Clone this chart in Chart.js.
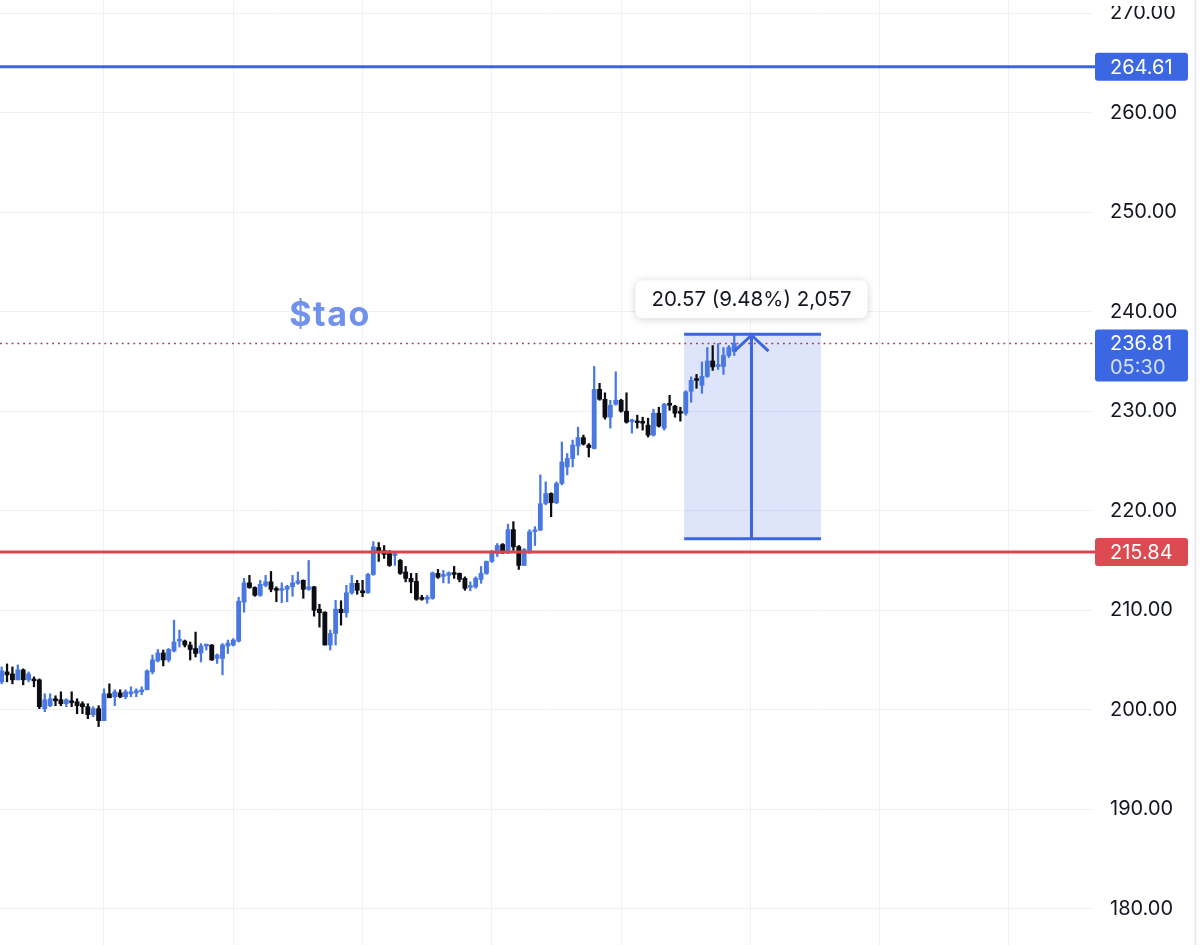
<!DOCTYPE html>
<html><head><meta charset="utf-8">
<script src="https://cdn.jsdelivr.net/npm/chart.js@4.4.1/dist/chart.umd.min.js"></script>
<style>html,body{margin:0;padding:0;background:#fff;overflow:hidden}#wrap{width:1200px;height:945px;position:relative}</style>
</head><body><div id="wrap"><canvas id="c"></canvas></div>
<script>
// ---- data (candle index = category) ----
const OPEN = [202.8,203.8,203.6,203.0,204.0,203.0,203.0,203.0,200.1,200.4,
201.1,201.0,200.6,200.9,200.8,200.6,200.3,199.5,200.1,198.9,
201.6,201.3,201.7,201.3,201.6,201.7,201.8,202.0,203.8,204.9,
205.7,205.0,205.9,206.9,206.9,206.5,206.15,205.7,206.4,206.5,
205.15,205.15,206.4,206.5,206.9,210.8,212.75,212.28,211.5,212.5,
212.85,212.1,212.0,212.1,212.35,212.7,213.0,212.1,212.35,210.1,
209.8,206.5,207.66,210.1,209.75,211.75,212.7,211.95,211.75,213.6,
216.3,216.0,215.7,215.5,215.0,213.85,213.2,212.9,211.2,211.1,
211.2,213.7,213.4,213.5,213.75,213.7,213.2,212.3,212.35,213.1,
213.7,214.9,215.7,216.6,215.75,218.1,216.4,214.5,216.0,217.9,
218.05,220.73,221.73,220.8,222.74,224.4,225.25,226.5,227.35,226.6,
226.25,232.2,231.2,229.4,230.7,231.1,230.0,228.95,229.0,228.9,
228.6,227.6,229.8,228.3,230.8,230.5,229.9,229.8,232.0,233.2,
232.6,233.5,235.05,234.5,234.5,235.6,236.0];
const HIGH = [204.3,204.6,204.3,204.5,204.1,203.8,203.3,203.1,201.6,201.6,
201.4,201.8,201.1,201.8,201.1,200.8,200.6,200.3,200.4,202.1,
202.6,202.0,202.0,202.0,202.3,202.1,202.3,204.0,205.5,206.05,
206.0,206.15,209.0,208.0,207.0,206.8,207.8,206.65,206.6,206.55,
205.6,206.65,207.0,207.15,211.3,213.2,213.5,212.35,213.0,213.5,
213.9,212.35,212.75,212.5,213.5,213.85,213.05,215.0,212.4,210.6,
209.85,208.0,211.0,210.95,212.5,213.5,213.0,213.0,213.7,216.9,
216.8,216.5,216.0,215.7,215.1,214.4,213.7,213.7,211.5,211.5,
213.85,214.1,214.0,213.85,214.4,213.75,213.35,212.85,213.35,214.4,
214.95,216.0,216.7,216.7,218.65,218.9,216.5,216.2,218.1,218.4,
223.6,222.9,221.8,222.9,226.9,225.75,227.1,228.4,227.6,226.75,
234.5,232.8,231.85,231.1,233.96,231.2,231.85,229.2,229.6,229.4,
229.3,230.2,230.4,230.8,231.6,230.6,230.4,232.05,233.45,233.7,
234.96,236.4,236.6,236.8,236.4,236.6,237.6];
const LOW = [202.6,202.8,202.6,203.0,202.5,202.8,202.3,200.1,199.8,200.3,
200.4,200.4,200.3,200.3,199.6,199.6,199.1,199.3,198.3,198.9,
201.2,200.4,201.2,201.1,201.3,201.3,201.5,202.0,203.6,204.8,
204.4,204.8,205.8,206.3,206.3,205.0,205.3,204.8,206.0,204.95,
204.65,203.5,205.65,206.4,206.8,209.8,212.2,211.4,211.4,212.35,
211.85,210.85,210.75,210.85,211.4,212.6,211.2,212.0,209.4,208.3,
206.5,206.0,206.5,208.5,209.3,211.6,211.6,211.35,211.7,213.5,
214.9,215.2,214.4,214.5,213.6,212.85,211.75,211.0,211.0,210.7,
211.1,213.2,212.75,212.7,213.2,212.85,212.0,211.95,212.2,212.7,
213.6,214.8,215.4,215.7,215.7,216.0,214.1,214.5,215.7,216.5,
218.0,220.6,219.4,220.7,222.6,223.6,224.4,225.6,226.6,225.4,
226.2,231.1,229.2,228.3,230.6,229.9,228.8,227.8,228.3,228.1,
227.4,227.5,228.4,228.1,230.1,229.4,229.0,229.6,230.9,232.3,
231.8,233.4,234.1,234.2,233.7,235.4,235.6];
const CLOSE = [203.9,203.5,203.0,204.0,203.0,203.6,202.9,200.3,201.0,201.1,
200.9,200.6,201.0,200.7,200.4,200.3,199.5,200.1,198.9,201.6,
201.2,201.8,201.3,201.8,201.8,201.9,202.0,203.9,205.0,205.7,
205.0,206.05,206.8,207.0,206.5,206.05,205.65,206.4,206.5,205.0,
205.5,206.5,206.7,207.0,210.9,212.75,212.28,211.5,212.6,212.85,
212.1,212.0,212.15,212.4,212.75,212.95,212.1,212.35,210.0,209.75,
206.5,207.66,210.1,209.75,211.75,212.7,212.0,211.75,213.6,216.37,
215.9,215.6,214.5,215.6,213.7,213.2,212.85,211.1,211.1,211.3,
213.75,213.3,213.5,213.75,213.6,213.1,212.2,212.4,213.2,213.7,
214.9,215.9,216.5,215.75,218.1,216.37,214.5,216.1,217.9,218.05,
220.7,221.73,220.8,222.74,224.9,225.25,226.6,227.35,226.7,226.35,
232.2,231.2,229.4,230.6,231.1,230.0,228.9,229.1,228.85,228.8,
227.6,229.8,228.5,230.7,230.6,229.8,229.8,231.95,233.1,233.1,
233.5,235.05,234.45,234.7,235.6,236.4,236.81];
const Y_TICKS = [180,190,200,210,220,230,240,250,260,270];
const TIME_GRID = [19,43,67,91,115,139,163,187];
const RESISTANCE = 264.61;
const SUPPORT = 215.84;
const LAST_PRICE = 236.81;
const COUNTDOWN = '05:30';
const TITLE = '$tao';
const MEASURE_FROM = 126.7, MEASURE_TO = 152.1, MEASURE_AT = 139.2;
const MEASURE_LOW = 217.17, MEASURE_HIGH = 237.74;
const MEASURE_TEXT = '20.57 (9.48%) 2,057';

// ---- styles ----
const UP = '#4a78e2', DOWN = '#0c0d12';
const LINE_BLUE = '#3c66df', LINE_RED = '#d8464e';
const GRID = '#eff1f4';
const FONT = 'Inter, "Noto Sans", sans-serif';

const idx = OPEN.map((_, i) => i);
const colors = idx.map(i => CLOSE[i] >= OPEN[i] ? UP : DOWN);

function rrect(ctx, x, y, w, h, r) {
  ctx.beginPath();
  ctx.moveTo(x + r, y); ctx.lineTo(x + w - r, y); ctx.quadraticCurveTo(x + w, y, x + w, y + r);
  ctx.lineTo(x + w, y + h - r); ctx.quadraticCurveTo(x + w, y + h, x + w - r, y + h);
  ctx.lineTo(x + r, y + h); ctx.quadraticCurveTo(x, y + h, x, y + h - r);
  ctx.lineTo(x, y + r); ctx.quadraticCurveTo(x, y, x + r, y); ctx.closePath();
}

const overlay = {
  id: 'overlay',
  beforeDatasetsDraw(chart) {
    const { ctx, chartArea: a, scales: { x, y } } = chart;
    ctx.save();
    const x0 = x.getPixelForValue(MEASURE_FROM), x1 = x.getPixelForValue(MEASURE_TO);
    const yt = y.getPixelForValue(MEASURE_HIGH), yb = y.getPixelForValue(MEASURE_LOW);
    ctx.fillStyle = 'rgba(60,102,223,0.17)';
    ctx.fillRect(x0, yt, x1 - x0, yb - yt);
    const yl = Math.round(y.getPixelForValue(LAST_PRICE)) + 0.5;
    ctx.strokeStyle = '#a8354f'; ctx.lineWidth = 1.6; ctx.setLineDash([1.8, 4]);
    ctx.beginPath(); ctx.moveTo(a.left, yl); ctx.lineTo(a.right, yl); ctx.stroke();
    ctx.setLineDash([]);
    ctx.restore();
  },
  afterDatasetsDraw(chart) {
    const { ctx, chartArea: a, scales: { x, y } } = chart;
    ctx.save();
    [[RESISTANCE, LINE_BLUE], [SUPPORT, LINE_RED]].forEach(([v, c]) => {
      const py = y.getPixelForValue(v);
      ctx.strokeStyle = c; ctx.lineWidth = 3;
      ctx.beginPath(); ctx.moveTo(a.left, py); ctx.lineTo(a.right + 2, py); ctx.stroke();
    });
    const x0 = x.getPixelForValue(MEASURE_FROM), x1 = x.getPixelForValue(MEASURE_TO);
    const xm = x.getPixelForValue(MEASURE_AT);
    const yt = y.getPixelForValue(MEASURE_HIGH), yb = y.getPixelForValue(MEASURE_LOW);
    ctx.strokeStyle = LINE_BLUE; ctx.lineWidth = 3; ctx.lineCap = 'butt';
    ctx.beginPath();
    ctx.moveTo(x0, yt); ctx.lineTo(x1, yt);
    ctx.moveTo(x0, yb); ctx.lineTo(x1, yb);
    ctx.moveTo(xm, yb); ctx.lineTo(xm, yt + 1);
    ctx.stroke();
    ctx.beginPath();
    ctx.moveTo(xm - 17, yt + 17); ctx.lineTo(xm, yt + 1); ctx.lineTo(xm + 17, yt + 17);
    ctx.stroke();
    ctx.font = '400 20.5px ' + FONT;
    const tw = ctx.measureText(MEASURE_TEXT).width;
    const bw = tw + 32, bh = 38, bx = xm - bw / 2, by = yt - 54;
    ctx.shadowColor = 'rgba(0,0,0,0.18)'; ctx.shadowBlur = 8; ctx.shadowOffsetY = 1;
    ctx.fillStyle = '#ffffff'; rrect(ctx, bx, by, bw, bh, 8); ctx.fill();
    ctx.shadowColor = 'transparent';
    ctx.fillStyle = '#131722'; ctx.textAlign = 'center'; ctx.textBaseline = 'middle';
    ctx.fillText(MEASURE_TEXT, xm, by + bh / 2 + 1);
    ctx.font = '700 34px ' + FONT;
    try { ctx.letterSpacing = '1.5px'; } catch (e) {}
    ctx.fillStyle = '#7091ec'; ctx.textAlign = 'left'; ctx.textBaseline = 'alphabetic';
    ctx.fillText(TITLE, x.getPixelForValue(53.4), y.getPixelForValue(238.55));
    try { ctx.letterSpacing = '0px'; } catch (e) {}
    ctx.restore();
  },
  afterDraw(chart) {
    const { ctx, chartArea: a, scales: { y } } = chart;
    ctx.save();
    const bx = a.right + 2, bw = 93;
    ctx.font = '400 20px ' + FONT; ctx.textBaseline = 'middle'; ctx.textAlign = 'left';
    const tag = (v, c, lines) => {
      const py = y.getPixelForValue(v);
      const h = lines.length > 1 ? 52 : 28;
      ctx.fillStyle = c; rrect(ctx, bx, py - 14, bw, h, 3); ctx.fill();
      ctx.fillStyle = '#ffffff';
      ctx.fillText(lines[0], 1110, py + 1);
      if (lines[1]) { ctx.fillStyle = 'rgba(255,255,255,0.78)'; ctx.fillText(lines[1], 1110, py + 25); }
    };
    tag(RESISTANCE, '#3b68e2', [RESISTANCE.toFixed(2)]);
    tag(SUPPORT, '#dc4a52', [SUPPORT.toFixed(2)]);
    tag(LAST_PRICE, '#3b68e2', [LAST_PRICE.toFixed(2), COUNTDOWN]);
    ctx.fillStyle = '#ffffff'; ctx.fillRect(1098, 0, 92, 6);
    ctx.strokeStyle = '#e3e5ea'; ctx.lineWidth = 1.5;
    ctx.beginPath(); ctx.moveTo(1195.5, 0); ctx.lineTo(1195.5, 945); ctx.stroke();
    ctx.restore();
  }
};

new Chart(document.getElementById('c'), {
  type: 'bar',
  data: {
    datasets: [
      { label: 'wick', data: idx.map(i => ({ x: i, y: [LOW[i], HIGH[i]] })),
        backgroundColor: colors, barThickness: 1.6, grouped: false, order: 2 },
      { label: 'body', data: idx.map(i => ({ x: i, y: [OPEN[i], CLOSE[i]] })),
        backgroundColor: colors, barThickness: 4.2, minBarLength: 1.8, grouped: false, order: 1 }
    ]
  },
  options: {
    responsive: true, maintainAspectRatio: false, animation: false, devicePixelRatio: 1,
    layout: { padding: 0 },
    plugins: { legend: { display: false }, tooltip: { enabled: false } },
    scales: {
      x: {
        type: 'linear', min: -0.306, max: 202.6, offset: false,
        afterBuildTicks: s => { s.ticks = TIME_GRID.map(v => ({ value: v })); },
        afterFit: s => { s.height = 0; s.paddingLeft = 0; s.paddingRight = 0; },
        ticks: { display: false },
        grid: { color: GRID, lineWidth: 1, drawTicks: false, offset: false },
        border: { display: false }
      },
      y: {
        position: 'right', min: 176.35, max: 271.33,
        afterBuildTicks: s => { s.ticks = Y_TICKS.map(v => ({ value: v })); },
        afterFit: s => { s.width = 107; s.paddingTop = 0; s.paddingBottom = 0; },
        ticks: { padding: 17, color: '#131722', font: { family: FONT, size: 20 },
          callback: v => Number(v).toFixed(2) },
        grid: { color: GRID, lineWidth: 1, drawTicks: false },
        border: { display: false }
      }
    }
  },
  plugins: [overlay]
});
</script></body></html>
